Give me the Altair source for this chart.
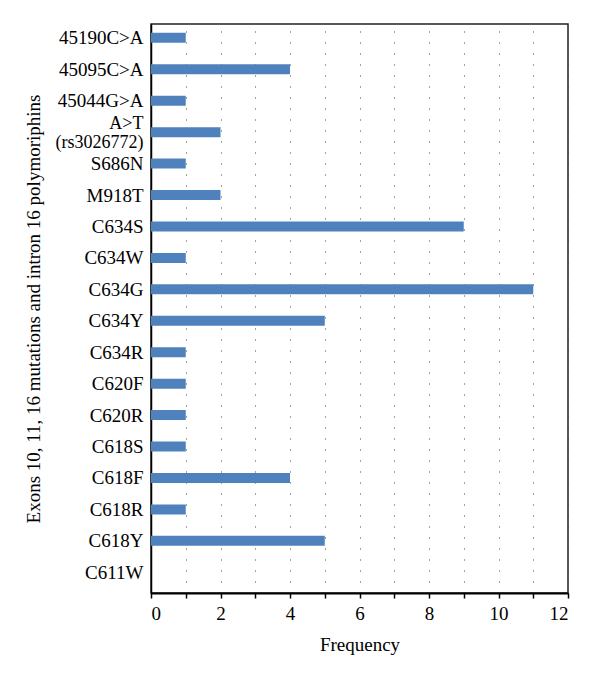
import json
import altair as alt
import pandas as pd

categories = ["45190C>A", "45095C>A", "45044G>A", "A>T\n(rs3026772)", "S686N", "M918T",
              "C634S", "C634W", "C634G", "C634Y", "C634R", "C620F", "C620R", "C618S",
              "C618F", "C618R", "C618Y", "C611W"]
frequency = [1, 4, 1, 2, 1, 2, 9, 1, 11, 5, 1, 1, 1, 1, 4, 1, 5, 0]
x_ticks = list(range(0, 13))

df = pd.DataFrame({"idx": list(range(len(categories))), "category": categories, "freq": frequency})

cats_js = json.dumps(categories)
label_expr = "split(" + cats_js + "[datum.value], '\\n')"
multi_test = "length(split(" + cats_js + "[datum.value], '\\n')) > 1"

FONT = "Liberation Serif"

chart = alt.Chart(df).mark_bar(orient="horizontal", size=10, color="#4f81bd").encode(
    x=alt.X("freq:Q",
            scale=alt.Scale(domain=[0, 12], nice=False, zero=True),
            axis=alt.Axis(title="Frequency", values=x_ticks,
                          labelExpr="datum.value % 2 == 0 ? datum.label : ''",
                          labelOverlap=False,
                          grid=True, gridDash=[1, 10], gridColor="#444", gridWidth=1,
                          tickSize=5, tickColor="#000", tickWidth=1.5,
                          domainColor="#000", domainWidth=2,
                          labelFont=FONT, labelFontSize=19, labelColor="#000", labelPadding=6,
                          titleFont=FONT, titleFontSize=19, titleColor="#000",
                          titleFontWeight="normal", titlePadding=12)),
    y=alt.Y("idx:Q",
            scale=alt.Scale(domain=[-0.28125, 17.5], nice=False, zero=False, reverse=True),
            axis=alt.Axis(title="Exons 10, 11, 16 mutations and intron 16 polymoriphins",
                          values=list(range(len(categories))), labelExpr=label_expr,
                          labelOverlap=False,
                          labelOffset={"condition": {"test": multi_test, "value": -9}, "value": 0},
                          labelFontSize={"condition": {"test": multi_test, "value": 18}, "value": 19},
                          grid=False, ticks=False, domainColor="#000", domainWidth=1.5,
                          labelFont=FONT, labelColor="#000",
                          labelPadding=8, labelLineHeight=19,
                          titleFont=FONT, titleFontSize=19, titleColor="#000",
                          titleFontWeight="normal", titlePadding=12)),
    tooltip=["category", "freq"],
).properties(
    width=417, height=569, background="white",
    padding={"left": 16, "top": 16, "right": 15, "bottom": 5},
).configure_view(stroke="#222", strokeWidth=1.5)

chart.save("out.html", embed_options={"renderer": "svg", "actions": False})
